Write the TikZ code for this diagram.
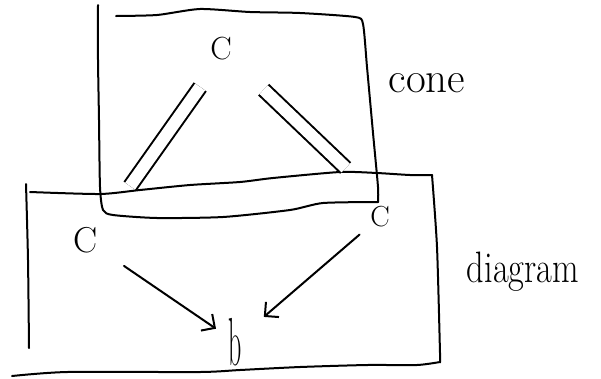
\documentclass[tikz,border=0pt]{standalone}
\usetikzlibrary{arrows.meta}
\begin{document}
\begin{tikzpicture}[x=1pt,y=-1pt,
  hand/.style={line width=2pt, line cap=round, line join=round},
  eq/.style={line width=2pt, line cap=butt, double, double distance=12pt},
  arr/.style={hand, -{Straight Barb[length=10pt,width=20pt]}},
  obj/.style={inner sep=0pt}
]
\useasboundingbox (0,0) rectangle (601,378);

% upper rectangle (cone)
\draw[hand] plot[smooth, tension=0.4] coordinates {(116,16) (157,15) (200,9) (250,12) (300,13) (355,17) (363,24) (367,67) (373,133) (378,187) (378,202)};
\draw[hand] plot[smooth, tension=0.4] coordinates {(378,202) (323,203) (290,210) (223,217) (157,218) (113,215) (103,210) (100,187) (99,120) (98,60) (98,5)};

% lower rectangle (diagram)
\draw[hand] plot[smooth, tension=0.4] coordinates {(30,192) (100,194) (140,190) (190,185) (240,182) (273,178) (340,172) (377,173) (410,175) (432,175)};
\draw[hand] plot[smooth, tension=0.4] coordinates {(432,175) (437,247) (440,353) (440,362)};
\draw[hand] plot[smooth, tension=0.4] coordinates {(440,362) (417,365) (367,365) (300,367) (240,370) (200,372) (67,372) (12,376)};
\draw[hand] plot[smooth, tension=0.4] coordinates {(26,184) (28,260) (29,348)};

% objects
\node[obj, font=\fontsize{32}{32}\selectfont] (ct) at (221,49) {C};
\node[obj, font=\fontsize{36}{36}\selectfont] (cl) at (86,240) {C};
\node[obj, font=\fontsize{29}{29}\selectfont] (cr) at (380,217) {C};
\node[obj, anchor=base] (b) at (235,365) {\scalebox{0.38}[1]{\fontsize{68}{68}\selectfont b}};

% labels
\node[obj, anchor=base, font=\fontsize{43}{43}\selectfont] (cone) at (427,92) {cone};
\node[obj, anchor=base, font=\fontsize{44}{44}\selectfont] (diag) at (523,282) {\scalebox{0.78}[1]{diagram}};

% cone legs (equalities)
\draw[eq, shorten <=46.5pt, shorten >=66pt] ([xshift=6pt]ct.center) -- ([xshift=6pt]cl.center);
\draw[eq, shorten <=59pt, shorten >=71pt] (ct.center) -- ([xshift=17pt]cr.center);

% diagram arrows
\draw[arr, shorten <=46pt, shorten >=23pt] (cl.center) -- (b.center);
\draw[arr, shorten <=27pt, shorten >=38pt] (cr.center) -- (b.center);
\end{tikzpicture}
\end{document}
